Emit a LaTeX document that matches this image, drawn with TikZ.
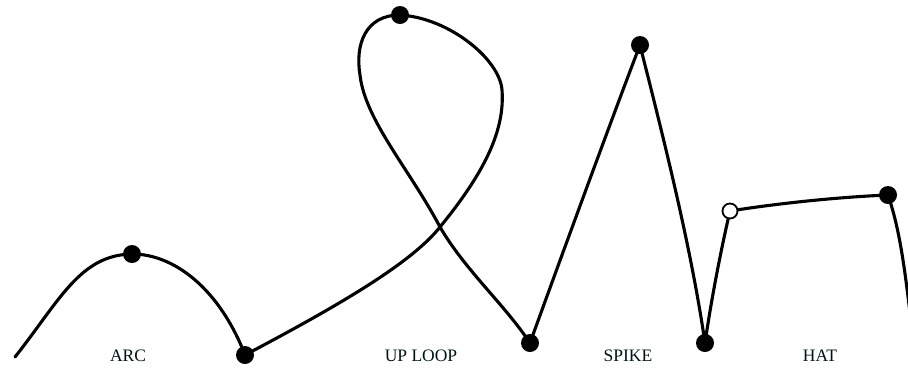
\documentclass[tikz,border=0pt]{standalone}
\usepackage{fontspec}
\setmainfont{Liberation Serif}
\begin{document}
\begin{tikzpicture}[x=1pt,y=-1pt,
  curve/.style={line width=3.1pt,line join=round,line cap=round,black},
  dot/.style={circle,fill=black,inner sep=0pt,minimum size=18pt},
  hollow/.style={circle,draw=black,line width=1.8pt,fill=white,inner sep=0pt,minimum size=15pt},
  lbl/.style={font=\fontsize{17.5}{20}\selectfont,text=black!85!teal,inner sep=0pt}]
\useasboundingbox (0,0) rectangle (908,368);
\begin{scope}
\clip (0,0) rectangle (908,368);
% named points
\coordinate (s) at (15,357);
\coordinate (a) at (132,254);
\coordinate (b) at (245,355);
\coordinate (x) at (440,227);
\coordinate (r) at (502,90);
\coordinate (t) at (400,15);
\coordinate (l) at (360,75);
\coordinate (c) at (530,343);
\coordinate (p) at (640,45);
\coordinate (d) at (705,343);
\coordinate (h) at (730,211);
\coordinate (e) at (888,195);
\coordinate (f) at (912,330);
% arc
\draw[curve] (s) .. controls (60,300) and (80,255) .. (a)
                 .. controls (175,254) and (220,290) .. (b);
% up loop
\draw[curve] (b) .. controls (330,310) and (410,265) .. (x)
                 .. controls (485,172) and (505,130) .. (r)
                 .. controls (500,60) and (450,18) .. (t)
                 .. controls (365,15) and (355,45) .. (l)
                 .. controls (365,120) and (410,170) .. (x)
                 .. controls (465,270) and (505,305) .. (c);
% spike
\draw[curve] (c) .. controls (560,260) and (615,110) .. (p)
                 .. controls (660,125) and (690,240) .. (d);
% hat
\draw[curve] (d) .. controls (712,295) and (722,245) .. (h)
                 .. controls (780,203) and (840,197) .. (e)
                 .. controls (900,230) and (905,270) .. (f);
\end{scope}
% markers
\node[dot] (na) at (a) {};
\node[dot] (nb) at (b) {};
\node[dot] (nt) at (t) {};
\node[dot] (nc) at (c) {};
\node[dot] (np) at (p) {};
\node[dot] (nd) at (d) {};
\node[hollow] (nh) at (h) {};
\node[dot] (ne) at (e) {};
% labels
\node[lbl] (l1) at (128,356) {ARC};
\node[lbl] (l2) at (421,356) {UP LOOP};
\node[lbl] (l3) at (628,356) {SPIKE};
\node[lbl] (l4) at (820,356) {HAT};
\end{tikzpicture}
\end{document}
